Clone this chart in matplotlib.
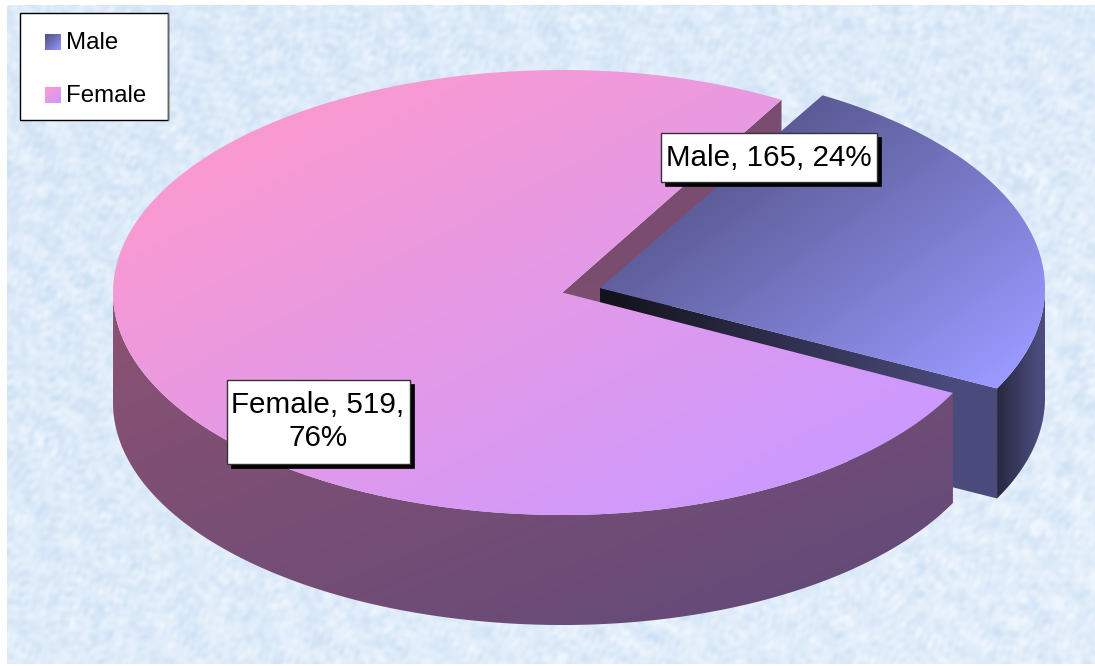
import numpy as np
import matplotlib
matplotlib.use('Agg')
import matplotlib.pyplot as plt
from matplotlib.patches import Polygon, Rectangle
from matplotlib.colors import to_rgb

plt.rcParams['font.family'] = ['Liberation Sans', 'DejaVu Sans']

# data
names = ['Male', 'Female']
values = [165, 519]
box_text = ['Male, 165, 24%', 'Female, 519,\n76%']
start_angle = 60

W, H = 1095, 666
depth = 110

fig = plt.figure(figsize=(W / 100, H / 100), dpi=100)
ax = fig.add_axes([0, 0, 1, 1])
ax.set_axis_off()
yy, xx = np.mgrid[0:H, 0:W] + 0.5


def gradient(poly, c0, c1, t, z):
    # colour ramp over the whole canvas, clipped to the polygon
    t = np.clip(t, 0, 1)[..., None]
    img = np.array(to_rgb(c0)) * (1 - t) + np.array(to_rgb(c1)) * t
    im = ax.imshow(img, extent=(0, W, H, 0), aspect='auto', zorder=z, interpolation='bilinear')
    p = Polygon(poly, closed=True, transform=ax.transData, fc='none', ec='none')
    ax.add_patch(p)
    im.set_clip_path(p)


def rim(cx, cy, a_left, a_right, angles):
    rad = np.radians(angles)
    c, s = np.cos(rad), np.sin(rad)
    a = np.where(c < 0, a_left, a_right)
    return np.column_stack([cx + a * c, cy - 222.5 * s])


def down(pts):
    return pts + np.array([0, depth])


# background paper, many soft waves in spread out directions
n = np.zeros((H, W))
for k in range(90):
    d = k * 2.39996
    f = 0.12 + 0.75 * ((k * 0.618) % 1) ** 1.3
    warp = 2.0 * np.sin(0.017 * xx + k) + 2.0 * np.sin(0.023 * yy + 2 * k)
    n += np.sin(f * (xx * np.cos(d) + yy * np.sin(d)) + warp + k * 1.3) / (1 + 1.5 * f)
n = n / n.std() * 0.17 + (xx / W + yy / H - 1) * 0.12
bg = np.clip(0.5 + n, 0, 1)[..., None]
bg = np.array(to_rgb('#cfe2f5')) * (1 - bg) + np.array(to_rgb('#eef5fd')) * bg
ax.imshow(bg, extent=(7, W, 664, 5), aspect='auto', zorder=0)

# slice angles come from the values
span = 360 * np.array(values) / sum(values)
male_a = np.linspace(start_angle - span[0], start_angle, 120)
female_a = np.linspace(start_angle, start_angle + span[1], 300)

m_apex = np.array([[600.0, 288.0]])
f_apex = np.array([[562.5, 292.5]])
m_rim = rim(600, 288, 445, 445, male_a)
f_rim = rim(563, 292.5, 450, 437, female_a)

# female cut wall sits behind the male slice
wall = np.vstack([f_apex, f_rim[:1], down(f_rim[:1]), down(f_apex)])
gradient(wall, '#7a4d70', '#83526f', (293 - yy) / -110 + 0.2, 1)

# male outer side and cut wall
m_vis = m_rim[male_a <= 0]
gradient(np.vstack([m_vis, down(m_vis)[::-1]]), '#28283f', '#4a4a7c', (xx - 997) / 40, 1.5)
cut = np.vstack([m_apex, m_rim[:1], down(m_rim[:1]), down(m_apex)])
gradient(cut, '#13131d', '#4a4a7c', (xx - 610) / 340, 1.6)

# female outer side, only the part facing the viewer
f_vis = f_rim[female_a >= 180]
gradient(np.vstack([f_vis, down(f_vis)[::-1]]), '#8c5272', '#634a78',
         (xx - 113) / 840 * 0.55 + (yy - 293) / 332 * 0.55, 2)

# tops
f_top = np.vstack([f_apex, f_rim])
gradient(f_top, '#ff99cc', '#cc99ff', ((xx - 113) / 840 + (yy - 70) / 445) / 2 * 1.25 - 0.1, 3)
m_top = np.vstack([m_apex, m_rim])
gradient(m_top, '#55558c', '#9999ff', ((xx - 600) / 445 + (yy - 66) / 322) / 2 * 1.45 - 0.35, 4)

# legend
ax.add_patch(Rectangle((20, 13), 147.5, 107, fc='white', ec='black', lw=1, zorder=5))
ax.plot([167.5, 167.5], [13, 120], color='#666666', lw=1, zorder=5.1)
swatches = [('#4d4d80', '#9999ff', 34), ('#ff99cc', '#cc99ff', 87)]
for name, (c0, c1, y0) in zip(names, swatches):
    sq = [(45, y0), (61, y0), (61, y0 + 16), (45, y0 + 16)]
    gradient(sq, c0, c1, ((xx - 45) + (yy - y0)) / 32, 6)
    ax.text(66, y0 + 15.3, name, fontsize=17.3, va='baseline', ha='left', color='black', zorder=7)

# data labels
boxes = [(661, 133, 216, 49), (226.5, 379.5, 183, 84)]
for txt, (bx, by, bw, bh) in zip(box_text, boxes):
    ax.add_patch(Rectangle((bx + 4, by + 4), bw, bh, fc='black', ec='black', lw=0.5, zorder=8))
    ax.add_patch(Rectangle((bx, by), bw, bh, fc='white', ec='#333333', lw=1, zorder=9))
    ax.text(bx + bw / 2, by + bh / 2, txt, fontsize=21.3, ha='center', va='center',
            linespacing=1.27, color='black', zorder=10)

ax.set_xlim(0, W)
ax.set_ylim(H, 0)
fig.savefig('out.png', dpi=100, facecolor='white')
